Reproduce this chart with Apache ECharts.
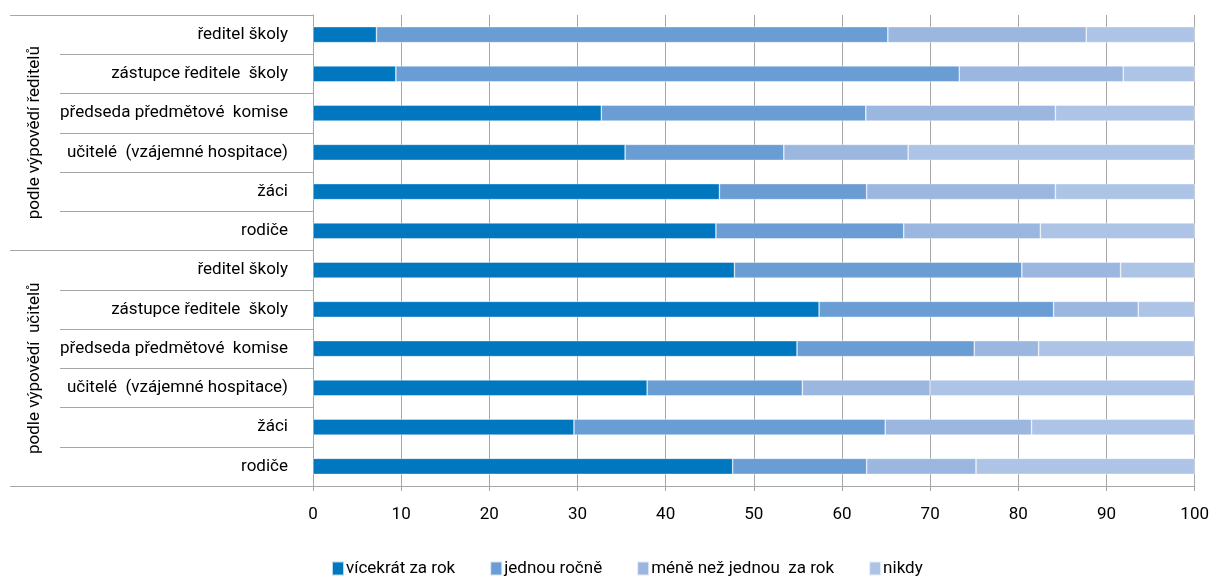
<!DOCTYPE html>
<html><head><meta charset="utf-8">
<script src="https://cdn.jsdelivr.net/npm/echarts@6/dist/echarts.min.js"></script>
<style>html,body{margin:0;padding:0;background:#fff;overflow:hidden}#c{width:1212px;height:577px}</style>
</head><body><div id="c"></div>
<script>
var categories = ['ředitel školy','zástupce ředitele  školy','předseda předmětové  komise','učitelé  (vzájemné hospitace)','žáci','rodiče',
                  'ředitel školy','zástupce ředitele  školy','předseda předmětové  komise','učitelé  (vzájemné hospitace)','žáci','rodiče'];
var groups = ['podle výpovědí ředitelů','podle výpovědí  učitelů'];
var seriesNames = ['vícekrát za rok','jednou ročně','méně než jednou  za rok','nikdy'];
var vicekrat = [7.2, 9.4, 32.7, 35.4, 46.1, 45.7, 47.8, 57.4, 54.9, 37.9, 29.6, 47.6];
var jednou   = [58.0, 63.9, 30.0, 18.0, 16.7, 21.3, 32.6, 26.6, 20.1, 17.6, 35.3, 15.2];
var mene     = [22.5, 18.6, 21.5, 14.1, 21.4, 15.5, 11.2, 9.6, 7.3, 14.5, 16.6, 12.4];
var nikdy    = [12.3, 8.1, 15.8, 32.5, 15.8, 17.5, 8.4, 6.4, 17.7, 30.0, 18.5, 24.8];
var xTicks = [0,10,20,30,40,50,60,70,80,90,100];

var colors = ['#0077bf','#6a9dd3','#9bb7e0','#aec4e7'];
var font = "Roboto,sans-serif";
var chart = echarts.init(document.getElementById('c'));
var dataSets = [vicekrat, jednou, mene, nikdy];
chart.setOption({
  animation: false,
  textStyle: {fontFamily: font},
  color: colors,
  grid: {left: 313, right: 13, top: 15, bottom: 91},
  legend: {
    bottom: -5, left: 326, itemWidth: 12, itemHeight: 14, itemGap: 34,
    icon: 'rect',
    textStyle: {fontFamily: font, fontSize: 17, color: '#000', padding: [0,0,0,-3]},
    data: seriesNames
  },
  xAxis: {
    type: 'value', min: xTicks[0], max: xTicks[xTicks.length-1], interval: 10,
    axisLine: {show: true, lineStyle: {color: '#a6a6a6'}},
    axisTick: {show: true, length: 5, lineStyle: {color: '#a6a6a6'}},
    splitLine: {show: true, lineStyle: {color: '#a6a6a6'}},
    axisLabel: {fontFamily: font, fontSize: 17, color: '#000', margin: 20}
  },
  yAxis: [{
    type: 'category', inverse: true, data: categories,
    axisLine: {show: true, lineStyle: {color: '#a6a6a6'}},
    axisTick: {show: true, interval: 0, length: 253, lineStyle: {color: '#a6a6a6'}},
    axisLabel: {interval: 0, fontFamily: font, fontSize: 17, color: '#000', margin: 25}
  },{
    type: 'category', inverse: true, position: 'left', data: groups,
    axisLine: {show: false},
    axisTick: {show: true, interval: 0, length: 303, lineStyle: {color: '#a6a6a6'}},
    axisLabel: {interval: 0, fontFamily: font, fontSize: 17, color: '#000', rotate: 90, margin: 270}
  }],
  series: seriesNames.map(function(n, i){
    return {name: n, type: 'bar', stack: 'a', yAxisIndex: 0, barWidth: 16,
            data: dataSets[i], itemStyle: {color: colors[i], borderColor: 'rgba(255,255,255,0.7)', borderWidth: 0.6}};
  })
});
</script></body></html>
